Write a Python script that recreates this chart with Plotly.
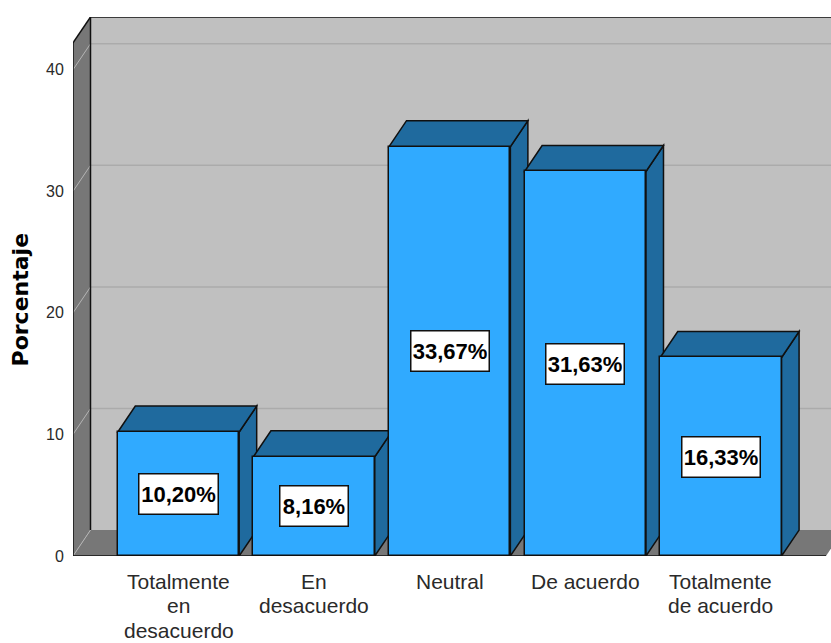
import plotly.graph_objects as go

categories = [["Totalmente", "en", "desacuerdo"], ["En", "desacuerdo"], ["Neutral"], ["De acuerdo"], ["Totalmente", "de acuerdo"]]
values = [10.20, 8.16, 33.67, 31.63, 16.33]
value_labels = ["10,20%", "8,16%", "33,67%", "31,63%", "16,33%"]
label_box_widths = [76, 65, 75, 75, 75]
y_ticks = [0, 10, 20, 30, 40]
y_title = "Porcentaje"

FRONT = "#30AAFF"
DARK = "#1F6A9E"
WALL = "#777777"
BACK = "#C0C0C0"
GRID = "#ABABAB"
WALL_GRID = "#B4B4B4"
INK = "#101010"
FONT = "Liberation Sans"

PXX = 135.6
PXY = 12.18
BAR_W = 0.895
DX = 17.5 / PXX
DY = 26.0 / PXY
X0 = -105.5 / PXX
X1 = 652.5 / PXX
FLOOR_R = 647.5 / PXX
Y_TOP = 42.2


def poly(pts):
    return "M " + " L ".join(f"{x:.4f},{y:.4f}" for x, y in pts) + " Z"


shapes = []


def add(path, fill="rgba(0,0,0,0)", line=None, width=1.5):
    shapes.append(dict(type="path", path=path, xref="x", yref="y", layer="below",
                       fillcolor=fill, line=dict(color=line or "rgba(0,0,0,0)", width=width if line else 0)))


def seg(x0, y0, x1, y1, color=INK, width=1.5):
    shapes.append(dict(type="line", x0=x0, y0=y0, x1=x1, y1=y1, xref="x", yref="y", layer="below",
                       line=dict(color=color, width=width)))


# back wall
add(poly([(X0 + DX, DY), (X1 + 1, DY), (X1 + 1, Y_TOP + DY), (X0 + DX, Y_TOP + DY)]), BACK)
for t in y_ticks[1:]:
    seg(X0 + DX, t + DY, X1 + 1, t + DY, GRID, 1.5)
# left wall
add(poly([(X0, 0), (X0 + DX, DY), (X0 + DX, Y_TOP + DY), (X0, Y_TOP)]), WALL)
# floor
add(poly([(X0, 0), (X0 + DX, DY), (FLOOR_R + DX, DY), (FLOOR_R, 0)]), WALL)
for t in y_ticks:
    seg(X0, t, X0 + DX, t + DY, WALL_GRID, 1)
seg(X0, 0, X0, Y_TOP)
seg(X0 + DX, DY, X0 + DX, Y_TOP + DY)
seg(X0, Y_TOP, X0 + DX, Y_TOP + DY)
seg(X0 + DX, Y_TOP + DY, X1 + 1, Y_TOP + DY)
seg(X0, 0, FLOOR_R, 0)
# depth faces of each bar
for i, v in enumerate(values):
    l, r = i - BAR_W / 2, i + BAR_W / 2
    add(poly([(r, 0), (r + DX, DY), (r + DX, v + DY), (r, v)]), DARK, INK)
    add(poly([(l, v), (l + DX, v + DY), (r + DX, v + DY), (r, v)]), DARK, INK)

fig = go.Figure()
fig.add_trace(go.Bar(
    x=list(range(len(values))), y=values, width=BAR_W,
    marker=dict(color=FRONT, line=dict(color=INK, width=1.5)),
    hoverinfo="skip", showlegend=False,
))

annotations = []
for i, v in enumerate(values):
    annotations.append(dict(
        x=i, y=v / 2, xref="x", yref="y", text=f"<b>{value_labels[i]}</b>", showarrow=False,
        font=dict(family=FONT, size=22, color="#000000"),
        bgcolor="#FFFFFF", bordercolor=INK, borderwidth=1.5,
        width=label_box_widths[i], height=37, align="center", valign="middle",
    ))
    for j, line in enumerate(categories[i]):
        annotations.append(dict(
            x=i, y=0, xref="x", yref="y", text=line, showarrow=False,
            font=dict(family=FONT, size=21, color="#2A2A2A"),
            yanchor="middle", yshift=-(25 + 24.5 * j),
        ))
annotations.append(dict(
    xref="paper", x=0, xanchor="center", xshift=-53, yref="y", y=21.1, yanchor="middle",
    text=f"<b>{y_title}</b>", textangle=-90, showarrow=False,
    font=dict(family="DejaVu Sans", size=22, color="#000000"),
))

fig.update_layout(
    width=831, height=643, autosize=False,
    margin=dict(l=73, r=0, t=17, b=87, pad=0),
    paper_bgcolor="#FFFFFF", plot_bgcolor="#FFFFFF",
    shapes=shapes, annotations=annotations, bargap=0,
    xaxis=dict(range=[X0, X1], showgrid=False, zeroline=False, showline=False,
               showticklabels=False, ticks=""),
    yaxis=dict(range=[0, Y_TOP + DY], tickmode="array", tickvals=y_ticks,
               showgrid=False, zeroline=False, showline=False,
               ticks="outside", ticklen=5, tickcolor="rgba(0,0,0,0)",
               tickfont=dict(family=FONT, size=16, color="#2A2A2A")),
)
fig.write_html("out.html", config={"displayModeBar": False},
               post_script="document.body.style.margin='0';document.body.style.overflow='hidden';")
